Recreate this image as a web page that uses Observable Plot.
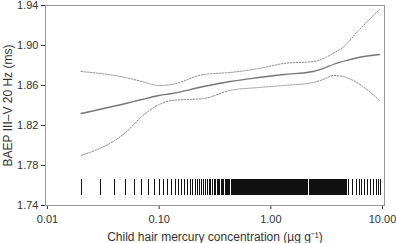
<!DOCTYPE html>
<html>
<head>
<meta charset="utf-8">
<script src="https://cdn.jsdelivr.net/npm/d3@7"></script>
<script src="https://cdn.jsdelivr.net/npm/@observablehq/plot@0.6"></script>
<style>
  html, body { margin: 0; padding: 0; background: #fff; }
  svg [aria-label="x-axis label"] text, svg [aria-label="y-axis label"] text { font-size: 12px; }
</style>
</head>
<body>
<div id="chart"></div>
<script>
// Concentration grid (µg/g) at which the curves were read
const conc = [0.02, 0.05, 0.07, 0.10, 0.13, 0.25, 0.43, 0.78, 1.3, 2.4, 3.1, 3.6, 4.4, 6.1, 9.4];
// Fitted BAEP III–V latency (ms)
const fit   = [1.832, 1.842, 1.846, 1.850, 1.852, 1.859, 1.864, 1.868, 1.871, 1.874, 1.878, 1.881, 1.884, 1.888, 1.891];
// Upper and lower confidence limits (ms)
const upper = [1.874, 1.868, 1.864, 1.860, 1.861, 1.871, 1.873, 1.877, 1.882, 1.884, 1.888, 1.892, 1.898, 1.915, 1.936];
const lower = [1.790, 1.813, 1.829, 1.841, 1.845, 1.847, 1.855, 1.858, 1.860, 1.863, 1.867, 1.870, 1.869, 1.862, 1.845];

// Rug: observed child hair mercury concentrations
const rugLow = [0.02, 0.03, 0.04, 0.05, 0.06, 0.07, 0.08, 0.09];
const rugMid = [0.10,0.11,0.12,0.13,0.14,0.15,0.16,0.17,0.18,0.19,
  0.20,0.21,0.22,0.23,0.24,0.25,0.26,0.27,0.28,0.29,
  0.30,0.31,0.32,0.33,0.34,0.35,0.36,0.37,0.38,0.39,
  0.40,0.41,0.42,0.43,0.44,0.45,0.46,0.47,0.48,0.49,
  0.50,0.51,0.52,0.53,0.54,0.55,0.56,0.57,0.58,0.59,
  0.60,0.61,0.62,0.63,0.64,0.65,0.66,0.67,0.68,0.69,
  0.70,0.71,0.72,0.73,0.74,0.75,0.76,0.77,0.78,0.79,
  0.80,0.81,0.82,0.83,0.84,0.85,0.86,0.87,0.88,0.89,
  0.90,0.91,0.92,0.93,0.94,0.95,0.96,0.97,0.98,0.99];
const rugHigh = [1.00,1.02,1.04,1.06,1.08,1.10,1.12,1.14,1.16,1.18,
  1.20,1.22,1.24,1.26,1.28,1.30,1.32,1.34,1.36,1.38,
  1.40,1.42,1.44,1.46,1.48,1.50,1.52,1.54,1.56,1.58,
  1.60,1.62,1.64,1.66,1.68,1.70,1.72,1.74,1.76,1.78,
  1.80,1.82,1.84,1.86,1.88,1.90,1.92,1.94,1.96,1.98,
  2.00,2.05,2.10,2.15,2.20,2.25,2.30,2.35,2.40,2.45,
  2.50,2.55,2.60,2.65,2.70,2.75,2.80,2.85,2.90,2.95,
  3.00,3.05,3.10,3.15,3.20,3.25,3.30,3.35,3.40,3.45,
  3.50,3.55,3.60,3.65,3.70,3.75,3.80,3.85,3.90,3.95,
  4.00,4.05,4.10,4.15,4.20,4.25,4.30,4.35,4.40,4.50,4.60,4.70,4.80];
const rugTail = [5.0, 5.4, 5.8, 6.2, 6.5, 6.9, 7.3, 7.8, 8.3, 8.8, 9.2, 9.5];
const rug = [...rugLow, ...rugMid, ...rugHigh, ...rugTail];

// Axis ticks
const xTicks = [0.01, 0.1, 1, 10];
const xTickLabels = ["0.01", "0.10", "1.00", "10.00"];
const yTicks = [1.74, 1.78, 1.82, 1.86, 1.90, 1.94];

const xLabel = "Child hair mercury concentration (\u00b5g g\u207b\u00b9)";
const yLabel = "BAEP III\u2013V 20 Hz (ms)";

const rows = conc.map((c, i) => ({c, fit: fit[i], upper: upper[i], lower: lower[i]}));

const chart = Plot.plot({
  width: 396,
  height: 243,
  marginLeft: 45,
  marginRight: 12,
  marginTop: 5,
  marginBottom: 38,
  style: {fontFamily: "'Liberation Sans', Arial, sans-serif", fontSize: "11px", color: "#333", background: "#fff"},
  x: {
    type: "log",
    domain: [0.0096, 10.42],
    ticks: xTicks,
    tickFormat: (d) => xTickLabels[xTicks.findIndex(t => Math.abs(t - d) < 1e-9)],
    tickSize: 4,
    tickPadding: 6,
    label: xLabel,
    labelAnchor: "center",
    labelOffset: 35,
    labelArrow: "none"
  },
  y: {
    domain: [1.74, 1.94],
    ticks: yTicks,
    tickFormat: d3.format(".2f"),
    tickSize: 4,
    tickPadding: 3,
    label: yLabel,
    labelAnchor: "center",
    labelArrow: "none"
  },
  marks: [
    Plot.frame({stroke: "#999"}),
    Plot.ruleX(rug, {x: d => d, y1: 1.750, y2: 1.766, stroke: "#111", strokeWidth: 1, shapeRendering: "crispEdges"}),
    Plot.line(rows, {x: "c", y: "upper", stroke: "#888", strokeWidth: 1, strokeDasharray: "1.5,1.5", curve: "monotone-x"}),
    Plot.line(rows, {x: "c", y: "lower", stroke: "#888", strokeWidth: 1, strokeDasharray: "1.5,1.5", curve: "monotone-x"}),
    Plot.line(rows, {x: "c", y: "fit", stroke: "#777", strokeWidth: 1.3, curve: "monotone-x"})
  ]
});
document.getElementById("chart").appendChild(chart);
</script>
</body>
</html>
